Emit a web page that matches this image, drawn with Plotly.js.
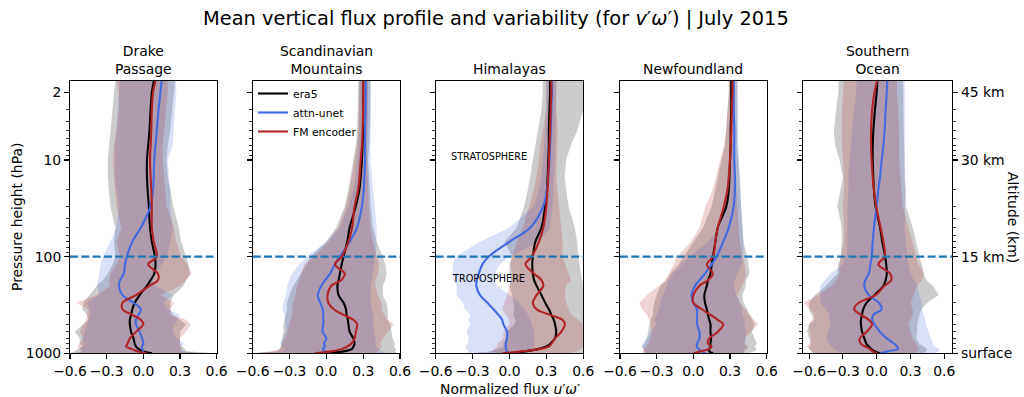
<!DOCTYPE html>
<html>
<head>
<meta charset="utf-8">
<script src="https://cdn.plot.ly/plotly-3.0.1.min.js"></script>
<style>html,body{margin:0;padding:0;background:#fff;} #chart{width:1024px;height:397px;}</style>
</head>
<body>
<div id="chart"></div>
<script>
// Pressure levels (hPa)
const P_LEVELS = [1.5,2,3,5,7,10,15,20,30,50,70,100,120,150,175,200,250,300,350,400,450,500,600,700,800,850,900,950,1000];
const TROPOPAUSE_HPA = 100;

const REGIONS = ["Drake<br>Passage","Scandinavian<br>Mountains","Himalayas","Newfoundland","Southern<br>Ocean"];
const SERIES_NAMES = ["era5","attn-unet","FM encoder"];

// ---- Drake Passage ----
const DRAKE_ERA5    = [0.087,0.07,0.06,0.05,0.04,0.03,0.03,0.035,0.045,0.055,0.07,0.095,0.1,0.09,0.06,0.03,-0.03,-0.07,-0.09,-0.1,-0.11,-0.11,-0.1,-0.08,-0.07,-0.06,-0.04,0.0,0.07];
const DRAKE_ERA5_LO = [-0.23,-0.24,-0.25,-0.27,-0.28,-0.29,-0.29,-0.28,-0.27,-0.23,-0.24,-0.23,-0.25,-0.29,-0.33,-0.38,-0.44,-0.49,-0.5,-0.46,-0.45,-0.49,-0.56,-0.52,-0.52,-0.5,-0.54,-0.56,-0.6];
const DRAKE_ERA5_HI = [0.26,0.25,0.24,0.22,0.2,0.19,0.2,0.22,0.245,0.29,0.31,0.35,0.37,0.38,0.35,0.33,0.25,0.22,0.22,0.24,0.3,0.35,0.3,0.3,0.3,0.32,0.34,0.35,0.6];
const DRAKE_UNET    = [0.15,0.14,0.125,0.11,0.1,0.09,0.085,0.08,0.06,-0.02,-0.09,-0.135,-0.15,-0.16,-0.19,-0.2,-0.17,-0.08,-0.02,-0.04,-0.06,-0.06,-0.03,-0.01,0.0,-0.01,-0.01,0.0,0.0];
const DRAKE_UNET_LO = [-0.19,-0.2,-0.21,-0.22,-0.23,-0.23,-0.23,-0.22,-0.2,-0.22,-0.27,-0.33,-0.35,-0.36,-0.37,-0.38,-0.36,-0.46,-0.44,-0.43,-0.45,-0.46,-0.48,-0.5,-0.48,-0.5,-0.52,-0.5,-0.55];
const DRAKE_UNET_HI = [0.27,0.27,0.26,0.25,0.24,0.2,0.21,0.22,0.22,0.24,0.22,0.19,0.15,0.1,0.08,0.1,0.24,0.16,0.2,0.3,0.28,0.25,0.24,0.27,0.34,0.3,0.3,0.35,0.45];
const DRAKE_FM      = [0.10,0.08,0.07,0.065,0.06,0.055,0.06,0.065,0.07,0.07,0.085,0.11,0.04,0.12,0.12,0.05,-0.06,-0.17,-0.17,-0.09,-0.02,0.0,-0.06,-0.11,-0.13,-0.14,-0.1,-0.05,0.03];
const DRAKE_FM_LO   = [-0.22,-0.2,-0.2,-0.22,-0.24,-0.25,-0.24,-0.23,-0.22,-0.18,-0.22,-0.19,-0.22,-0.27,-0.28,-0.27,-0.38,-0.55,-0.45,-0.46,-0.47,-0.49,-0.52,-0.49,-0.52,-0.54,-0.52,-0.5,-0.57];
const DRAKE_FM_HI   = [0.2,0.2,0.19,0.17,0.16,0.16,0.17,0.18,0.19,0.25,0.27,0.31,0.36,0.395,0.35,0.3,0.14,0.25,0.22,0.22,0.35,0.39,0.35,0.3,0.3,0.3,0.32,0.3,0.45];

// ---- Scandinavian Mountains ----
const SCAND_ERA5    = [0.30,0.30,0.30,0.30,0.295,0.29,0.28,0.27,0.24,0.19,0.17,0.14,0.125,0.11,0.1,0.09,0.1,0.14,0.16,0.165,0.175,0.18,0.19,0.22,0.23,0.22,0.21,0.15,0.02];
const SCAND_ERA5_LO = [0.26,0.26,0.255,0.25,0.24,0.22,0.2,0.18,0.15,0.08,0.0,-0.13,-0.16,-0.21,-0.24,-0.27,-0.3,-0.32,-0.32,-0.33,-0.34,-0.35,-0.35,-0.36,-0.37,-0.37,-0.38,-0.4,-0.6];
const SCAND_ERA5_HI = [0.36,0.36,0.36,0.355,0.35,0.34,0.35,0.355,0.36,0.38,0.41,0.46,0.48,0.49,0.48,0.46,0.46,0.49,0.5,0.5,0.5,0.52,0.53,0.54,0.56,0.55,0.57,0.56,0.57];
const SCAND_UNET    = [0.32,0.32,0.32,0.315,0.315,0.315,0.31,0.305,0.29,0.25,0.19,0.11,0.07,0.03,-0.01,-0.04,-0.07,-0.05,-0.03,-0.025,-0.025,-0.025,-0.03,0.0,-0.02,-0.01,-0.03,-0.01,-0.01];
const SCAND_UNET_LO = [0.27,0.27,0.27,0.265,0.26,0.25,0.24,0.22,0.18,0.11,0.0,-0.16,-0.22,-0.28,-0.3,-0.32,-0.33,-0.35,-0.36,-0.34,-0.34,-0.33,-0.33,-0.36,-0.38,-0.36,-0.34,-0.36,-0.6];
const SCAND_UNET_HI = [0.36,0.36,0.36,0.36,0.36,0.36,0.37,0.38,0.39,0.41,0.41,0.4,0.39,0.38,0.37,0.36,0.36,0.36,0.37,0.38,0.38,0.38,0.39,0.4,0.4,0.41,0.42,0.45,0.5];
const SCAND_FM      = [0.30,0.30,0.30,0.295,0.29,0.28,0.27,0.26,0.23,0.21,0.18,0.125,0.07,0.15,0.12,0.04,0.01,0.016,0.06,0.14,0.22,0.25,0.24,0.23,0.2,0.17,0.13,0.05,-0.09];
const SCAND_FM_LO   = [0.27,0.27,0.265,0.26,0.25,0.23,0.21,0.19,0.16,0.1,0.02,-0.1,-0.18,-0.2,-0.22,-0.24,-0.25,-0.27,-0.28,-0.28,-0.29,-0.3,-0.32,-0.34,-0.36,-0.37,-0.38,-0.45,-0.6];
const SCAND_FM_HI   = [0.34,0.34,0.34,0.335,0.33,0.33,0.335,0.34,0.345,0.36,0.38,0.41,0.43,0.42,0.4,0.4,0.42,0.45,0.45,0.47,0.5,0.55,0.5,0.46,0.44,0.45,0.44,0.42,0.4];

// ---- Himalayas ----
const HIMA_ERA5    = [0.33,0.33,0.325,0.32,0.32,0.315,0.31,0.305,0.29,0.26,0.21,0.19,0.185,0.19,0.2,0.22,0.26,0.29,0.32,0.34,0.36,0.37,0.38,0.37,0.33,0.3,0.24,0.14,0.0];
const HIMA_ERA5_LO = [0.27,0.27,0.26,0.23,0.21,0.19,0.17,0.15,0.12,0.06,-0.04,0.02,0.0,0.0,0.01,0.0,0.02,0.03,0.04,0.03,0.05,0.04,-0.02,-0.03,-0.05,-0.05,-0.1,-0.15,-0.3];
const HIMA_ERA5_HI = [0.6,0.6,0.6,0.55,0.5,0.46,0.45,0.46,0.48,0.53,0.55,0.56,0.57,0.58,0.59,0.6,0.6,0.6,0.6,0.6,0.6,0.6,0.6,0.6,0.6,0.6,0.6,0.6,0.6];
const HIMA_UNET    = [0.345,0.345,0.34,0.335,0.33,0.325,0.315,0.305,0.275,0.17,0.0,-0.17,-0.22,-0.25,-0.265,-0.27,-0.24,-0.18,-0.13,-0.09,-0.06,-0.05,-0.02,-0.02,-0.03,-0.03,-0.03,-0.02,0.0];
const HIMA_UNET_LO = [0.3,0.3,0.3,0.29,0.28,0.27,0.26,0.24,0.2,0.0,-0.24,-0.44,-0.46,-0.46,-0.46,-0.43,-0.43,-0.38,-0.36,-0.32,-0.33,-0.32,-0.35,-0.33,-0.34,-0.36,-0.35,-0.33,-0.35];
const HIMA_UNET_HI = [0.38,0.38,0.375,0.37,0.37,0.37,0.36,0.36,0.35,0.33,0.24,0.0,-0.08,-0.12,-0.13,-0.1,0.0,0.08,0.12,0.15,0.17,0.18,0.2,0.2,0.2,0.2,0.18,0.17,0.15];
const HIMA_FM      = [0.34,0.34,0.335,0.33,0.325,0.32,0.315,0.31,0.3,0.275,0.24,0.18,0.13,0.2,0.26,0.275,0.22,0.19,0.22,0.33,0.43,0.45,0.42,0.37,0.34,0.32,0.25,0.12,-0.06];
const HIMA_FM_LO   = [0.3,0.3,0.3,0.27,0.25,0.24,0.22,0.2,0.16,0.11,0.06,0.02,0.01,0.02,0.02,0.0,-0.02,-0.04,-0.06,-0.03,0.0,0.0,-0.05,-0.05,-0.1,-0.1,-0.12,-0.15,-0.1];
const HIMA_FM_HI   = [0.38,0.38,0.38,0.39,0.39,0.385,0.38,0.39,0.4,0.42,0.43,0.43,0.45,0.48,0.5,0.46,0.45,0.46,0.48,0.5,0.56,0.6,0.6,0.6,0.6,0.6,0.58,0.55,0.5];

// ---- Newfoundland ----
const NEWF_ERA5    = [0.31,0.31,0.31,0.305,0.305,0.3,0.295,0.29,0.27,0.2,0.18,0.16,0.15,0.14,0.12,0.11,0.09,0.095,0.11,0.12,0.13,0.14,0.14,0.145,0.14,0.14,0.13,0.13,0.16];
const NEWF_ERA5_LO = [0.29,0.29,0.28,0.27,0.26,0.23,0.2,0.18,0.15,0.08,0.0,-0.08,-0.12,-0.19,-0.22,-0.27,-0.3,-0.32,-0.33,-0.33,-0.35,-0.36,-0.37,-0.38,-0.4,-0.42,-0.41,-0.4,-0.4];
const NEWF_ERA5_HI = [0.36,0.36,0.36,0.36,0.36,0.37,0.38,0.385,0.39,0.4,0.41,0.44,0.45,0.46,0.43,0.43,0.4,0.41,0.44,0.46,0.48,0.5,0.48,0.5,0.52,0.5,0.52,0.5,0.45];
const NEWF_UNET    = [0.33,0.33,0.33,0.335,0.335,0.335,0.34,0.34,0.33,0.29,0.245,0.19,0.15,0.095,0.05,0.014,-0.014,0.0,0.03,0.03,0.03,0.03,0.05,0.05,0.03,0.03,0.04,0.07,0.1];
const NEWF_UNET_LO = [0.3,0.3,0.3,0.3,0.3,0.29,0.28,0.27,0.24,0.22,0.12,-0.03,-0.09,-0.17,-0.2,-0.22,-0.25,-0.27,-0.28,-0.3,-0.32,-0.3,-0.35,-0.38,-0.42,-0.42,-0.41,-0.4,-0.38];
const NEWF_UNET_HI = [0.36,0.36,0.36,0.365,0.365,0.37,0.38,0.385,0.39,0.4,0.41,0.41,0.4,0.36,0.34,0.33,0.35,0.38,0.4,0.4,0.42,0.42,0.43,0.43,0.42,0.44,0.42,0.41,0.42];
const NEWF_FM      = [0.32,0.32,0.315,0.31,0.305,0.3,0.29,0.28,0.25,0.2,0.18,0.16,0.11,0.16,0.12,0.05,0.0,0.0,0.07,0.14,0.2,0.245,0.2,0.13,0.12,0.15,0.13,0.06,0.0];
const NEWF_FM_LO   = [0.29,0.29,0.28,0.27,0.25,0.22,0.19,0.16,0.1,0.05,-0.02,-0.13,-0.16,-0.2,-0.23,-0.28,-0.38,-0.44,-0.42,-0.38,-0.36,-0.35,-0.34,-0.35,-0.37,-0.38,-0.4,-0.42,-0.4];
const NEWF_FM_HI   = [0.34,0.34,0.34,0.34,0.34,0.34,0.345,0.35,0.36,0.37,0.38,0.4,0.42,0.43,0.42,0.4,0.36,0.38,0.42,0.46,0.5,0.53,0.47,0.42,0.42,0.45,0.44,0.42,0.4];

// ---- Southern Ocean ----
const SOCE_ERA5    = [0.006,0.0,-0.015,-0.03,-0.035,-0.035,-0.03,-0.025,-0.01,0.03,0.05,0.075,0.085,0.09,0.08,0.06,-0.02,-0.09,-0.12,-0.13,-0.14,-0.14,-0.13,-0.11,-0.09,-0.07,-0.05,-0.02,0.03];
const SOCE_ERA5_LO = [-0.34,-0.34,-0.36,-0.38,-0.37,-0.33,-0.3,-0.32,-0.35,-0.31,-0.31,-0.32,-0.34,-0.35,-0.4,-0.45,-0.55,-0.6,-0.6,-0.58,-0.55,-0.6,-0.62,-0.6,-0.58,-0.6,-0.6,-0.58,-0.58];
const SOCE_ERA5_HI = [0.235,0.24,0.24,0.24,0.245,0.25,0.25,0.26,0.26,0.32,0.35,0.38,0.4,0.42,0.44,0.5,0.55,0.45,0.4,0.38,0.37,0.36,0.36,0.35,0.38,0.42,0.45,0.44,0.42];
const SOCE_UNET    = [0.094,0.09,0.08,0.07,0.06,0.045,0.03,0.015,0.0,-0.024,-0.035,-0.044,-0.055,-0.07,-0.1,-0.11,-0.07,0.02,0.045,-0.03,-0.04,-0.02,0.03,0.09,0.16,0.18,0.19,0.1,0.03];
const SOCE_UNET_LO = [-0.18,-0.18,-0.2,-0.22,-0.23,-0.24,-0.25,-0.25,-0.26,-0.26,-0.26,-0.27,-0.3,-0.41,-0.46,-0.5,-0.5,-0.5,-0.45,-0.42,-0.42,-0.41,-0.43,-0.45,-0.42,-0.4,-0.38,-0.35,-0.33];
const SOCE_UNET_HI = [0.25,0.25,0.25,0.25,0.25,0.25,0.25,0.25,0.25,0.25,0.26,0.27,0.28,0.3,0.33,0.36,0.38,0.4,0.4,0.42,0.43,0.44,0.46,0.48,0.5,0.52,0.55,0.56,0.5];
const SOCE_FM      = [0.005,-0.02,-0.04,-0.05,-0.05,-0.045,-0.035,-0.025,-0.005,0.035,0.06,0.07,0.015,0.12,0.13,0.07,-0.01,-0.16,-0.2,-0.14,-0.07,-0.04,-0.09,-0.15,-0.14,-0.1,-0.06,-0.04,0.0];
const SOCE_FM_LO   = [-0.29,-0.3,-0.31,-0.31,-0.31,-0.3,-0.29,-0.29,-0.3,-0.29,-0.29,-0.32,-0.33,-0.33,-0.36,-0.4,-0.52,-0.65,-0.6,-0.55,-0.58,-0.6,-0.6,-0.58,-0.6,-0.62,-0.6,-0.58,-0.56];
const SOCE_FM_HI   = [0.18,0.18,0.19,0.2,0.2,0.2,0.21,0.22,0.23,0.28,0.32,0.35,0.37,0.42,0.4,0.36,0.33,0.3,0.32,0.32,0.3,0.28,0.3,0.32,0.35,0.36,0.38,0.36,0.35];

// Axis ticks
const X_TICKS = [-0.6,-0.3,0.0,0.3,0.6];
const X_TICK_TEXT = ["\u22120.6","\u22120.3","0.0","0.3","0.6"];
const P_TICKS = [2,10,100,1000];
const P_TICK_TEXT = ["2","10","100","1000"];
const ALT_TICK_TEXT = ["45 km","30 km","15 km","surface"];
const P_MINOR = [3,4,5,6,7,8,9,20,30,40,50,60,70,80,90,200,300,400,500,600,700,800,900];

const PANELS = [
  {era5:[DRAKE_ERA5,DRAKE_ERA5_LO,DRAKE_ERA5_HI], unet:[DRAKE_UNET,DRAKE_UNET_LO,DRAKE_UNET_HI], fm:[DRAKE_FM,DRAKE_FM_LO,DRAKE_FM_HI]},
  {era5:[SCAND_ERA5,SCAND_ERA5_LO,SCAND_ERA5_HI], unet:[SCAND_UNET,SCAND_UNET_LO,SCAND_UNET_HI], fm:[SCAND_FM,SCAND_FM_LO,SCAND_FM_HI]},
  {era5:[HIMA_ERA5,HIMA_ERA5_LO,HIMA_ERA5_HI], unet:[HIMA_UNET,HIMA_UNET_LO,HIMA_UNET_HI], fm:[HIMA_FM,HIMA_FM_LO,HIMA_FM_HI]},
  {era5:[NEWF_ERA5,NEWF_ERA5_LO,NEWF_ERA5_HI], unet:[NEWF_UNET,NEWF_UNET_LO,NEWF_UNET_HI], fm:[NEWF_FM,NEWF_FM_LO,NEWF_FM_HI]},
  {era5:[SOCE_ERA5,SOCE_ERA5_LO,SOCE_ERA5_HI], unet:[SOCE_UNET,SOCE_UNET_LO,SOCE_UNET_HI], fm:[SOCE_FM,SOCE_FM_LO,SOCE_FM_HI]}
];

// Layout geometry (pixels)
const W = 1024, H = 397;
const X_DOM_PX = [[70,216.6],[252.7,400],[435.7,583.3],[620,766.7],[803.3,952.3]];
const X_RANGES = [[-0.6,0.6],[-0.6,0.6],[-0.6,0.6],[-0.6,0.6],[-0.652,0.672]];
const Y_TOP_PX = 80.7, Y_BOT_PX = 353.3;
const yDom = [1 - Y_BOT_PX/H, 1 - Y_TOP_PX/H];

const LINE_COL = {era5:"#000000", unet:"#4169e1", fm:"#b22222"};
const FILL_COL = {era5:"rgba(128,128,128,0.4)", unet:"rgba(65,105,225,0.2)", fm:"rgba(178,34,34,0.2)"};
const KEYS = ["era5","unet","fm"];

const traces = [];
const layout = {
  width: W, height: H,
  margin: {l:0,r:0,t:0,b:0},
  paper_bgcolor: "#fff", plot_bgcolor: "#fff",
  font: {family: "DejaVu Sans, sans-serif", color: "#000", size: 13.9},
  showlegend: true,
  legend: {x: 253/W, y: 1 - 79/H, xanchor: "left", yanchor: "top", bgcolor: "rgba(0,0,0,0)",
           font: {size: 10.8}, tracegroupgap: 0, itemwidth: 30},
  annotations: [], shapes: []
};

PANELS.forEach((pan, i) => {
  const n = i + 1;
  const xa = n === 1 ? "x" : "x" + n;
  const ya = n === 1 ? "y" : "y" + n;
  // fills
  KEYS.forEach(k => {
    const [m, lo, hi] = pan[k];
    traces.push({
      type: "scatter", mode: "lines", xaxis: xa, yaxis: ya,
      x: lo.concat(hi.slice().reverse()),
      y: P_LEVELS.concat(P_LEVELS.slice().reverse()),
      fill: "toself", fillcolor: FILL_COL[k], line: {width: 0, color: "rgba(0,0,0,0)"},
      hoverinfo: "skip", showlegend: false
    });
  });
  // mean lines
  KEYS.forEach((k, j) => {
    traces.push({
      type: "scatter", mode: "lines", xaxis: xa, yaxis: ya,
      x: pan[k][0], y: P_LEVELS,
      line: {color: LINE_COL[k], width: 2.1, shape: "spline", smoothing: 1.0},
      name: SERIES_NAMES[j], showlegend: n === 2
    });
  });
  const xd = X_DOM_PX[i];
  layout["xaxis" + (n === 1 ? "" : n)] = {
    domain: [xd[0]/W, xd[1]/W], anchor: ya, range: X_RANGES[i],
    tickmode: "array", tickvals: X_TICKS, ticktext: X_TICK_TEXT, tickangle: 0,
    ticks: "outside", ticklen: 4.9, tickwidth: 1.1, tickcolor: "#000",
    showline: true, linecolor: "#000", linewidth: 1.1, mirror: true,
    showgrid: false, zeroline: false, tickfont: {size: 13.9}
  };
  layout["yaxis" + (n === 1 ? "" : n)] = {
    domain: yDom, anchor: xa, type: "log",
    range: [Math.log10(1000), Math.log10(1.51)],
    tickmode: "array", tickvals: P_TICKS, ticktext: P_TICK_TEXT,
    showticklabels: n === 1,
    ticks: "outside", ticklen: 4.9, tickwidth: 1.1, tickcolor: "#000",
    minor: {tickmode: "array", tickvals: P_MINOR, ticks: "outside", ticklen: 2.8, tickwidth: 0.8, tickcolor: "#000", showgrid: false},
    showline: true, linecolor: "#000", linewidth: 1.1, mirror: true,
    showgrid: false, zeroline: false, tickfont: {size: 13.9}
  };
  // tropopause dashed line
  layout.shapes.push({
    type: "line", xref: xa + " domain", yref: ya,
    x0: 0, x1: 1, y0: TROPOPAUSE_HPA, y1: TROPOPAUSE_HPA,
    line: {color: "#1f77b4", width: 2.1, dash: "8px,3.3px"}, layer: "above"
  });
  // subplot titles
  layout.annotations.push({
    text: REGIONS[i], xref: "paper", yref: "paper",
    x: (xd[0] + xd[1]) / 2 / W, y: 1 - 79/H, xanchor: "center", yanchor: "bottom",
    showarrow: false, font: {size: 13.9}
  });
});

// right altitude axis on last panel
layout.yaxis6 = {
  domain: yDom, anchor: "x5", overlaying: "y5", side: "right", type: "log",
  range: [Math.log10(1000), Math.log10(1.51)],
  tickmode: "array", tickvals: P_TICKS, ticktext: ALT_TICK_TEXT,
  ticks: "outside", ticklen: 4.9, tickwidth: 1.1, tickcolor: "#000",
  minor: {tickmode: "array", tickvals: P_MINOR, ticks: "outside", ticklen: 2.8, tickwidth: 0.8, tickcolor: "#000", showgrid: false},
  showline: false, showgrid: false, zeroline: false, tickfont: {size: 13.9}
};
traces.push({type: "scatter", mode: "lines", xaxis: "x5", yaxis: "y6", x: [null], y: [null], showlegend: false, hoverinfo: "skip"});

// titles & labels
layout.annotations.push(
  {text: "Mean vertical flux profile and variability (for <i>v</i>\u2032<i>\u03c9</i>\u2032) | July 2015",
   xref: "paper", yref: "paper", x: 496/W, y: 1 - 19/H, xanchor: "center", yanchor: "middle",
   showarrow: false, font: {size: 19.4}},
  {text: "Pressure height (hPa)", xref: "paper", yref: "paper", x: 17/W, y: 1 - 217/H,
   xanchor: "center", yanchor: "middle", textangle: -90, showarrow: false, font: {size: 13.9}},
  {text: "Altitude (km)", xref: "paper", yref: "paper", x: 1013/W, y: 1 - 217/H,
   xanchor: "center", yanchor: "middle", textangle: 90, showarrow: false, font: {size: 13.9}},
  {text: "Normalized flux <i>u</i>\u2032<i>\u03c9</i>\u2032", xref: "paper", yref: "paper", x: 510/W, y: 1 - 389/H,
   xanchor: "center", yanchor: "middle", showarrow: false, font: {size: 13.9}},
  {text: "STRATOSPHERE", xref: "paper", yref: "paper", x: 488.5/W, y: 1 - 157/H,
   xanchor: "center", yanchor: "middle", showarrow: false, font: {size: 9.7}},
  {text: "TROPOSPHERE", xref: "paper", yref: "paper", x: 488/W, y: 1 - 278/H,
   xanchor: "center", yanchor: "middle", showarrow: false, font: {size: 9.7}}
);

Plotly.newPlot("chart", traces, layout, {staticPlot: true, displayModeBar: false});
</script>
</body>
</html>
